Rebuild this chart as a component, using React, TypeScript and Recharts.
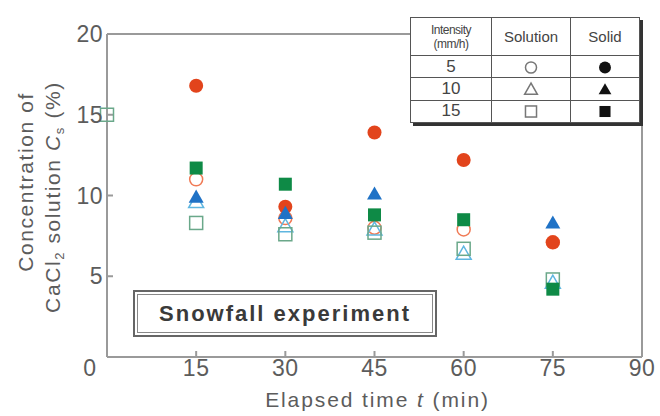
import { ScatterChart, Scatter, XAxis, YAxis, Label } from 'recharts';

// elapsed time (min)
const times = [15, 30, 45, 60, 75];

// solution concentration (open markers)
const solution5 = [11.0, 8.6, 8.0, 7.9, 7.1];
const solution10 = [9.6, 8.1, 7.9, 6.4, 4.6];
const solution15 = [8.3, 7.6, 7.7, 6.7, 4.8];
const initialSolution = 15;

// solid concentration (filled markers)
const solid5 = [16.8, 9.3, 13.9, 12.2, 7.1];
const solid10 = [9.9, 8.9, 10.1, null, 8.3];
const solid15 = [11.7, 10.7, 8.8, 8.5, 4.2];

const xTicks = [0, 15, 30, 45, 60, 75, 90];
const yTicks = [0, 5, 10, 15, 20];

const intensities = ['5', '10', '15'];

const RED = '#e2441c';
const BLUE = '#1f72c6';
const GREEN = '#0e8a46';
const TEXT = '#5c5c5c';
const AXIS = '#9a9a9a';
const FONT = 'Liberation Sans, Arial, sans-serif';

type Kind = 'circle' | 'triangle' | 'square';
const kinds: Kind[] = ['circle', 'triangle', 'square'];

const toPoints = (vals: (number | null)[]) =>
  times.map((t, i) => ({ t, c: vals[i] })).filter((p) => p.c != null);

const sol15Points = [{ t: 0, c: initialSolution }, ...toPoints(solution15)];

const Marker = ({ kind, cx, cy, color, filled, s = 1 }: { kind: Kind; cx: number; cy: number; color: string; filled: boolean; s?: number }) => {
  const fill = filled ? color : 'none';
  const sw = filled ? 0 : 1.5;
  if (kind === 'circle') return <circle cx={cx} cy={cy} r={(filled ? 7 : 6.5) * s} fill={fill} stroke={color} strokeWidth={sw} />;
  if (kind === 'triangle') {
    const h = 7.5 * s;
    return (
      <polygon
        points={`${cx},${cy - h} ${cx - h},${cy + h * 0.75} ${cx + h},${cy + h * 0.75}`}
        fill={fill}
        stroke={color}
        strokeWidth={sw}
      />
    );
  }
  const a = 6.5 * s;
  return <rect x={cx - a} y={cy - a} width={2 * a} height={2 * a} fill={fill} stroke={color} strokeWidth={sw} />;
};

const makeShape = (kind: Kind, color: string, filled: boolean) => (props: any) =>
  <Marker kind={kind} cx={props.cx ?? 0} cy={props.cy ?? 0} color={color} filled={filled} />;

const XTick = (props: any) => {
  const { x, y, payload } = props;
  const dx = payload.value === 0 ? -17 : 0;
  return (
    <text x={x + dx} y={y + 23} textAnchor="middle" fill={TEXT} fontSize={23} letterSpacing={0.5} fontFamily={FONT}>
      {payload.value}
    </text>
  );
};

const YTick = (props: any) => {
  const { x, y, payload } = props;
  if (payload.value === 0) return null;
  return (
    <text x={x - 8} y={y + 8} textAnchor="end" fill={TEXT} fontSize={23} letterSpacing={0.5} fontFamily={FONT}>
      {payload.value}
    </text>
  );
};

const YTitle = () => {
  return (
    <g fontFamily={FONT} fill={TEXT} fontSize={21} letterSpacing={1.6}>
      <text transform="rotate(-90, 33, 182)" x={33} y={182} textAnchor="middle">Concentration of</text>
      <text transform="rotate(-90, 60, 197)" x={60} y={197} textAnchor="middle">
        CaCl<tspan fontSize={13} dy={4}>2</tspan>
        <tspan dy={-4}> solution </tspan>
        <tspan fontStyle="italic">C</tspan>
        <tspan fontSize={13} dy={4}>s</tspan>
        <tspan dy={-4}> (%)</tspan>
      </text>
    </g>
  );
};

const cell: React.CSSProperties = {
  border: '1px solid #555',
  textAlign: 'center',
  padding: 0,
  color: '#444',
  fontSize: 14,
};

const CellIcon = ({ kind, filled }: { kind: Kind; filled: boolean }) => (
  <svg width={18} height={16} style={{ display: 'block', margin: '0 auto' }}>
    <Marker kind={kind} cx={9} cy={8.5} color={filled ? '#111' : '#777'} filled={filled} s={0.85} />
  </svg>
);

export default function App() {
  return (
    <div style={{ position: 'absolute', left: 0, top: 0, width: 660, height: 416, background: '#fff', fontFamily: FONT }}>
      <ScatterChart width={660} height={416} margin={{ top: 4, right: 17, bottom: 29, left: 0 }}>
        <XAxis
          xAxisId="b"
          type="number"
          dataKey="t"
          domain={[0, 90]}
          ticks={xTicks}
          stroke={AXIS}
          strokeWidth={2}
          tickSize={-6}
          tick={<XTick />}
          interval={0}
        >
          <Label
            value="Elapsed time t (min)"
            content={(p: any) => (
              <text x={p.viewBox.x + p.viewBox.width / 2 + 3} y={407} textAnchor="middle" fill={TEXT} fontSize={21} letterSpacing={1.9} fontFamily={FONT}>
                Elapsed time <tspan fontStyle="italic">t</tspan> (min)
              </text>
            )}
          />
        </XAxis>
        <XAxis xAxisId="top" orientation="top" type="number" domain={[0, 90]} ticks={xTicks} stroke={AXIS} strokeWidth={2} tickSize={-5} tick={false} />
        <YAxis
          yAxisId="l"
          type="number"
          dataKey="c"
          domain={[0, 20]}
          ticks={yTicks}
          width={107}
          stroke={AXIS}
          strokeWidth={2}
          tickSize={-6}
          tick={<YTick />}
          interval={0}
        >
          <Label content={<YTitle />} />
        </YAxis>
        <YAxis yAxisId="r" orientation="right" type="number" domain={[0, 20]} ticks={yTicks} width={1} stroke={AXIS} strokeWidth={2} tickSize={-5} tick={false} />

        <Scatter xAxisId="b" yAxisId="l" data={toPoints(solution5)} dataKey="c" shape={makeShape('circle', '#f07a55', false)} isAnimationActive={false} />
        <Scatter xAxisId="b" yAxisId="l" data={toPoints(solution10)} dataKey="c" shape={makeShape('triangle', '#5fb6e0', false)} isAnimationActive={false} />
        <Scatter xAxisId="b" yAxisId="l" data={sol15Points} dataKey="c" shape={makeShape('square', '#6aa88a', false)} isAnimationActive={false} />
        <Scatter xAxisId="b" yAxisId="l" data={toPoints(solid5)} dataKey="c" shape={makeShape('circle', RED, true)} isAnimationActive={false} />
        <Scatter xAxisId="b" yAxisId="l" data={toPoints(solid10)} dataKey="c" shape={makeShape('triangle', BLUE, true)} isAnimationActive={false} />
        <Scatter xAxisId="b" yAxisId="l" data={toPoints(solid15)} dataKey="c" shape={makeShape('square', GREEN, true)} isAnimationActive={false} />
      </ScatterChart>

      <div
        style={{
          position: 'absolute',
          left: 133,
          top: 290,
          width: 300,
          height: 43,
          border: '2px solid #666',
          outline: '1px solid #888',
          outlineOffset: -5,
          background: '#fff',
          display: 'flex',
          alignItems: 'center',
          justifyContent: 'center',
          fontWeight: 'bold',
          fontSize: 22,
          letterSpacing: 2,
          color: '#3a3a3a',
        }}
      >
        Snowfall experiment
      </div>

      <table
        style={{
          position: 'absolute',
          left: 410,
          top: 17,
          width: 230,
          height: 106,
          borderCollapse: 'collapse',
          background: '#fff',
          boxShadow: '3px 3px 0 #333',
          border: '1.5px solid #444',
        }}
      >
        <tbody>
          <tr style={{ height: 38 }}>
            <td style={{ ...cell, width: 80, fontSize: 12, lineHeight: '14px', letterSpacing: -0.5 }}>
              Intensity
              <br />(mm/h)
            </td>
            <td style={{ ...cell, width: 78, fontSize: 15 }}>Solution</td>
            <td style={{ ...cell, fontSize: 15 }}>Solid</td>
          </tr>
          {intensities.map((v, i) => (
            <tr key={v}>
              <td style={{ ...cell, fontSize: 17, lineHeight: '18px' }}>{v}</td>
              <td style={cell}><CellIcon kind={kinds[i]} filled={false} /></td>
              <td style={cell}><CellIcon kind={kinds[i]} filled /></td>
            </tr>
          ))}
        </tbody>
      </table>
    </div>
  );
}
